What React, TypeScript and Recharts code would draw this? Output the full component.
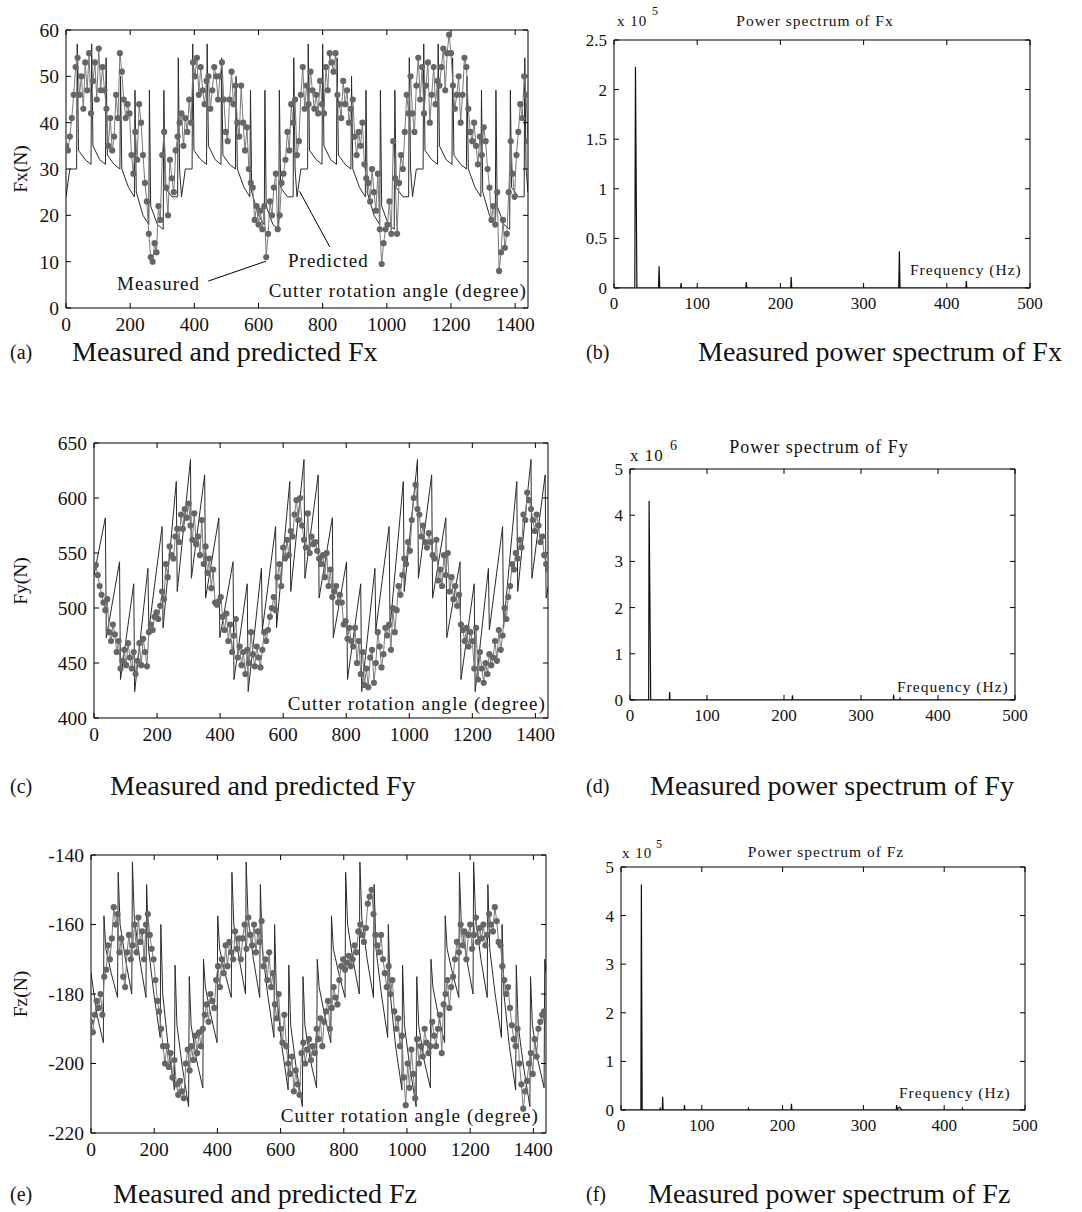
import React from 'react';
import { ComposedChart, Line, XAxis, YAxis, ReferenceLine } from 'recharts';

const SERIF = "'Liberation Serif', 'Times New Roman', serif";

// ---------- tick labels ----------
const ANGLE_TICKS = [0, 200, 400, 600, 800, 1000, 1200, 1400];
const FREQ_TICKS = [0, 100, 200, 300, 400, 500];
const FX_TICKS = [0, 10, 20, 30, 40, 50, 60];
const FY_TICKS = [400, 450, 500, 550, 600, 650];
const FZ_TICKS = [-220, -200, -180, -160, -140];
const PSX_TICKS = [0, 0.5, 1, 1.5, 2, 2.5];
const PS5_TICKS = [0, 1, 2, 3, 4, 5];

// measured samples are every 6 degrees of cutter rotation (0..1440)
const MEASURED_STEP = 6;

// ---------- Fx ----------
const fxMeasured = [
  35, 34, 37, 41, 46, 52, 54, 46, 50, 43,
  53, 47, 55, 42, 49, 53, 45, 56, 47, 52,
  47, 43, 35, 41, 34, 37, 46, 41, 55, 51,
  45, 41, 44, 42, 33, 29, 38, 32, 44, 40,
  33, 27, 23, 16, 11, 10, 14, 12, 22, 19,
  33, 38, 26, 20, 32, 28, 25, 34, 37, 40,
  42, 35, 41, 38, 45, 40, 53, 50, 54, 46,
  52, 47, 44, 49, 50, 43, 47, 52, 50, 45,
  50, 53, 45, 38, 36, 45, 51, 44, 48, 40,
  37, 48, 40, 34, 39, 30, 27, 26, 19, 22,
  18, 21, 17, 22, 11, 16, 23, 20, 26, 29,
  17, 20, 27, 29, 32, 38, 34, 44, 40, 45,
  33, 36, 46, 52, 43, 48, 44, 51, 47, 43,
  46, 42, 49, 44, 42, 52, 47, 55, 53, 51,
  55, 46, 44, 41, 49, 44, 47, 40, 43, 45,
  37, 33, 38, 35, 40, 31, 28, 27, 23, 30,
  25, 21, 29, 17, 9.5, 14, 17, 18, 23, 16,
  36, 28, 16, 27, 33, 30, 38, 46, 42, 50,
  42, 38, 48, 54, 45, 52, 42, 48, 53, 40,
  46, 52, 44, 49, 48, 52, 56, 47, 55, 59,
  55, 48, 43, 46, 50, 40, 46, 54, 52, 43,
  38, 36, 40, 35, 31, 37, 33, 39, 36, 30,
  26, 19, 22, 18, 25, 8, 12, 19, 13, 16,
  25, 36, 29, 24, 33, 38, 44, 41, 50, 46,
  36,
];

const fxPredicted = [
  [0, 24], [12, 30], [33, 30], [35, 57], [39, 34], [60, 32], [78, 31], [80, 57], [84, 35], [105, 32], [123, 31], [125, 54], [129, 33], [150, 31], [168, 30], [170, 50], [174, 30], [195, 26], [213, 24], [215, 47], [219, 25], [240, 20], [258, 18], [260, 47], [264, 22], [285, 18], [303, 17], [305, 47], [309, 26], [330, 24], [348, 24], [350, 54], [354, 30],
  [360, 24], [372, 30], [393, 30], [395, 57], [399, 34], [420, 32], [438, 31], [440, 57], [444, 35], [465, 32], [483, 31], [485, 54], [489, 33], [510, 31], [528, 30], [530, 50], [534, 30], [555, 26], [573, 24], [575, 47], [579, 25], [600, 20], [618, 18], [620, 47], [624, 22], [645, 18], [663, 17], [665, 47], [669, 26], [690, 24], [708, 24], [710, 54], [714, 30],
  [720, 24], [732, 30], [753, 30], [755, 57], [759, 34], [780, 32], [798, 31], [800, 57], [804, 35], [825, 32], [843, 31], [845, 54], [849, 33], [870, 31], [888, 30], [890, 50], [894, 30], [915, 26], [933, 24], [935, 47], [939, 25], [960, 20], [978, 18], [980, 47], [984, 22], [1005, 18], [1023, 17], [1025, 47], [1029, 26], [1050, 24], [1068, 24], [1070, 54], [1074, 30],
  [1080, 24], [1092, 30], [1113, 30], [1115, 57], [1119, 34], [1140, 32], [1158, 31], [1160, 57], [1164, 35], [1185, 32], [1203, 31], [1205, 54], [1209, 33], [1230, 31], [1248, 30], [1250, 50], [1254, 30], [1275, 26], [1293, 24], [1295, 47], [1299, 25], [1320, 20], [1338, 18], [1340, 47], [1344, 22], [1365, 18], [1383, 17], [1385, 47], [1389, 26], [1410, 24], [1428, 24], [1430, 54], [1434, 30], [1440, 25],
];

// ---------- Fy ----------
const fyMeasured = [
  537, 539, 530, 520, 512, 505, 498, 508, 478, 470,
  485, 476, 460, 470, 445, 452, 462, 448, 468, 455,
  445, 460, 440, 452, 468, 448, 472, 460, 447, 478,
  485, 480, 492, 496, 490, 502, 515, 508, 540, 528,
  556, 548, 545, 565, 572, 560, 585, 572, 590, 582,
  595, 575, 562, 586, 558, 565, 548, 580, 540, 556,
  532, 545, 518, 535, 505, 503, 506, 510, 492, 480,
  495, 470, 485, 460, 475, 490, 455, 465, 448, 460,
  440, 462, 450, 478, 458, 447, 465, 455, 446, 462,
  478, 470, 480, 492, 500, 510, 498, 528, 540, 520,
  555, 545, 562, 548, 570, 565, 585, 598, 580, 600,
  575, 562, 555, 586, 550, 565, 558, 560, 552, 545,
  540, 548, 528, 550, 520, 535, 510, 515, 520, 505,
  512, 505, 485, 488, 472, 482, 470, 465, 482, 450,
  470, 440, 460, 430, 445, 428, 455, 462, 432, 450,
  478, 465, 446, 458, 482, 475, 485, 462, 500, 478,
  498, 520, 512, 530, 545, 540, 560, 552, 580, 600,
  612, 590, 585, 565, 575, 560, 555, 568, 560, 548,
  545, 562, 525, 535, 520, 548, 530, 550, 515, 528,
  508, 520, 502, 512, 485, 480, 470, 482, 465, 478,
  470, 445, 482, 435, 460, 445, 432, 450, 440, 458,
  448, 455, 470, 452, 480, 462, 475, 500, 490, 510,
  520, 540, 535, 550, 545, 562, 555, 585, 580, 605,
  598, 590, 580, 570, 585, 575, 560, 565, 548, 540,
  535,
];

const fyPredicted = [
  [0, 530],
  [36, 582], [39, 473], [81, 542], [84, 435], [126, 522], [129, 424], [171, 536], [174, 480], [216, 574], [219, 482], [261, 615], [264, 515], [306, 635], [309, 527], [351, 621], [354, 509],
  [396, 582], [399, 473], [441, 542], [444, 435], [486, 522], [489, 424], [531, 536], [534, 480], [576, 574], [579, 482], [621, 615], [624, 515], [666, 635], [669, 527], [711, 621], [714, 509],
  [756, 582], [759, 473], [801, 542], [804, 435], [846, 522], [849, 424], [891, 536], [894, 480], [936, 574], [939, 482], [981, 615], [984, 515], [1026, 635], [1029, 527], [1071, 621], [1074, 509],
  [1116, 582], [1119, 473], [1161, 542], [1164, 435], [1206, 522], [1209, 424], [1251, 536], [1254, 480], [1296, 574], [1299, 482], [1341, 615], [1344, 515], [1386, 635], [1389, 527], [1431, 621], [1434, 509], [1440, 519],
];

// ---------- Fz ----------
const fzMeasured = [
  -188, -191, -186, -182, -184, -180, -186, -175, -173, -166,
  -170, -164, -155, -160, -157, -168, -164, -175, -178, -168,
  -163, -170, -166, -160, -168, -158, -165, -162, -170, -160,
  -157, -163, -167, -170, -176, -182, -185, -190, -195, -200,
  -195, -201, -197, -204, -199, -206, -209, -205, -208, -210,
  -200, -196, -202, -195, -199, -192, -197, -191, -195, -190,
  -186, -183, -188, -180, -182, -184, -176, -172, -178, -170,
  -174, -166, -172, -165, -168, -170, -162, -167, -164, -170,
  -164, -160, -167, -158, -163, -166, -160, -168, -162, -165,
  -159, -172, -170, -176, -168, -178, -174, -183, -187, -180,
  -190, -194, -186, -195, -200, -203, -198, -208, -202, -206,
  -209, -197, -194, -200, -196, -193, -199, -195, -197, -190,
  -193, -187, -195, -188, -185, -182, -190, -184, -178, -181,
  -183, -176, -172, -170, -173, -171, -169, -172, -170, -166,
  -168, -162, -160, -163, -165, -161, -154, -152, -150, -157,
  -163, -166, -168, -163, -170, -174, -178, -172, -180, -176,
  -185, -190, -187, -195, -192, -204, -212, -200, -207, -196,
  -203, -210, -193, -200, -195, -198, -190, -194, -197, -195,
  -188, -192, -195, -190, -186, -197, -183, -180, -176, -184,
  -178, -175, -170, -165, -168, -160, -166, -162, -170, -163,
  -160, -167, -163, -158, -165, -161, -164, -160, -166, -163,
  -157, -160, -162, -155, -159, -165, -166, -172, -176, -180,
  -178, -184, -189, -193, -195, -190, -200, -206, -213, -208,
  -205, -200, -197, -203, -193, -198, -190, -188, -186, -185,
  -187,
];

const fzPredicted = [
  [0, -174], [19, -186],
  [39, -194], [41, -157.5], [47, -167], [64, -174], [84, -181], [86, -145], [92, -160], [109, -170], [129, -180], [131, -142], [137, -158], [154, -170], [174, -181], [176, -148.5], [182, -167], [199, -180], [219, -192.5], [221, -160], [227, -180], [244, -195], [264, -207.6], [266, -171.7], [272, -189], [289, -201], [309, -212.4], [311, -175], [317, -189], [334, -199], [354, -207], [356, -170],
  [362, -178], [379, -186],
  [399, -194], [401, -157.5], [407, -167], [424, -174], [444, -181], [446, -145], [452, -160], [469, -170], [489, -180], [491, -142], [497, -158], [514, -170], [534, -181], [536, -148.5], [542, -167], [559, -180], [579, -192.5], [581, -160], [587, -180], [604, -195], [624, -207.6], [626, -171.7], [632, -189], [649, -201], [669, -212.4], [671, -175], [677, -189], [694, -199], [714, -207], [716, -170],
  [722, -178], [739, -186],
  [759, -194], [761, -157.5], [767, -167], [784, -174], [804, -181], [806, -145], [812, -160], [829, -170], [849, -180], [851, -142], [857, -158], [874, -170], [894, -181], [896, -148.5], [902, -167], [919, -180], [939, -192.5], [941, -160], [947, -180], [964, -195], [984, -207.6], [986, -171.7], [992, -189], [1009, -201], [1029, -212.4], [1031, -175], [1037, -189], [1054, -199], [1074, -207], [1076, -170],
  [1082, -178], [1099, -186],
  [1119, -194], [1121, -157.5], [1127, -167], [1144, -174], [1164, -181], [1166, -145], [1172, -160], [1189, -170], [1209, -180], [1211, -142], [1217, -158], [1234, -170], [1254, -181], [1256, -148.5], [1262, -167], [1279, -180], [1299, -192.5], [1301, -160], [1307, -180], [1324, -195], [1344, -207.6], [1346, -171.7], [1352, -189], [1369, -201], [1389, -212.4], [1391, -175], [1397, -189], [1414, -199], [1434, -207], [1436, -170], [1440, -174],
];

// ---------- power spectra (frequency Hz, power in units of the axis multiplier) ----------
const psFx = [
  [0, 0], [25, 0], [25.8, 2.23], [27.5, 0], [53.5, 0], [54.2, 0.22], [55, 0], [80, 0], [80.6, 0.05], [81.2, 0],
  [158.4, 0], [159, 0.06], [159.6, 0], [212.4, 0], [213, 0.11], [213.6, 0], [342.2, 0], [343, 0.37], [343.8, 0],
  [422.9, 0], [423.5, 0.07], [424.1, 0], [500, 0],
];
const psFy = [
  [0, 0], [24.2, 0], [24.8, 4.31], [26.9, 0], [51, 0], [51.5, 0.17], [52, 0], [210.5, 0], [211, 0.1], [211.5, 0],
  [341.9, 0], [342.4, 0.11], [342.9, 0], [350.3, 0], [350.8, 0.03], [351.3, 0], [500, 0],
];
const psFz = [
  [0, 0], [24.6, 0], [25.2, 4.64], [26.2, 0], [48.1, 0], [48.6, 0.05], [49.1, 0], [51.1, 0], [51.6, 0.27], [52.1, 0],
  [78.1, 0], [78.6, 0.1], [79.1, 0], [157.3, 0], [157.8, 0.03], [158.3, 0], [210.5, 0], [211, 0.13], [211.5, 0],
  [340.6, 0], [341.2, 0.1], [342, 0.02], [345, 0.06], [347.5, 0], [422.1, 0], [422.6, 0.03], [423.1, 0], [500, 0],
];

const pairs = (p: number[][]) => p.map(([x, y]) => ({ x, y }));
const sampled = (v: number[]) => v.map((y, i) => ({ x: i * MEASURED_STEP, y }));

type Rect = { x: number; y: number; w: number; h: number };

function Plot(props: {
  rect: Rect;
  xDomain: [number, number];
  xTicks: number[];
  yDomain: [number, number];
  yTicks: number[];
  fs: number;
  xMargin: number;
  yMargin: number;
  children?: React.ReactNode;
}) {
  const { rect, xDomain, xTicks, yDomain, yTicks, fs, xMargin, yMargin, children } = props;
  const YW = 80, XH = 40, TH = 1, RW = 1, MT = 16, MR = 34;
  const W = rect.w + YW + RW + MR;
  const H = rect.h + XH + TH + MT;
  const tick = { fill: '#111', fontSize: fs, fontFamily: SERIF };
  const ax = { stroke: '#000', strokeWidth: 1 };
  const empty = () => '';
  return (
    <div style={{ position: 'absolute', left: rect.x - YW, top: rect.y - TH - MT, width: W, height: H }}>
      <ComposedChart width={W} height={H} margin={{ top: MT, right: MR, bottom: 0, left: 0 }}>
        <XAxis type="number" dataKey="x" domain={xDomain} ticks={xTicks} interval={0} allowDataOverflow
          height={XH} tickSize={-5} tickMargin={xMargin} tick={tick} axisLine={ax} tickLine={ax} />
        <XAxis xAxisId="top" orientation="top" type="number" dataKey="x" domain={xDomain} ticks={xTicks} interval={0}
          allowDataOverflow height={TH} tickSize={-5} tickFormatter={empty} axisLine={ax} tickLine={ax} />
        <YAxis type="number" domain={yDomain} ticks={yTicks} interval={0} allowDataOverflow width={YW}
          tickSize={-5} tickMargin={yMargin} tick={tick} axisLine={ax} tickLine={ax} />
        <YAxis yAxisId="right" orientation="right" type="number" domain={yDomain} ticks={yTicks} interval={0}
          allowDataOverflow width={RW} tickSize={-5} tickFormatter={empty} axisLine={ax} tickLine={ax} />
        {children}
      </ComposedChart>
    </div>
  );
}

function Txt(props: { x: number; y: number; size: number; anchor?: 'start' | 'middle' | 'end'; ls?: number; rotate?: boolean; children: React.ReactNode }) {
  const { x, y, size, anchor = 'start', ls = 0, rotate = false, children } = props;
  const tx = anchor === 'start' ? '0' : anchor === 'end' ? '-100%' : '-50%';
  return (
    <div style={{
      position: 'absolute', left: x, top: y,
      transform: `translate(${tx}, -50%)${rotate ? ' rotate(-90deg)' : ''}`,
      fontFamily: SERIF, fontSize: size, letterSpacing: ls, whiteSpace: 'nowrap', lineHeight: 1, color: '#111',
    }}>{children}</div>
  );
}

const PRED_STROKE = '#2a2a2a';
const MEAS_STROKE = '#7a7a7a';
const MEAS_DOT = { r: 3.1, fill: '#666666', stroke: '#666666', strokeWidth: 0 };

function TimePanel(props: { rect: Rect; yDomain: [number, number]; yTicks: number[]; pred: number[][]; meas: number[]; children?: React.ReactNode }) {
  const { rect, yDomain, yTicks, pred, meas, children } = props;
  return (
    <Plot rect={rect} xDomain={[0, 1440]} xTicks={ANGLE_TICKS} yDomain={yDomain} yTicks={yTicks} fs={19.5} xMargin={14} yMargin={12}>
      <Line data={pairs(pred)} dataKey="y" type="linear" stroke={PRED_STROKE} strokeWidth={1} dot={false} activeDot={false} isAnimationActive={false} />
      <Line data={sampled(meas)} dataKey="y" type="linear" stroke={MEAS_STROKE} strokeWidth={1} dot={MEAS_DOT} activeDot={false} isAnimationActive={false} />
      {children}
    </Plot>
  );
}

function SpecPanel(props: { rect: Rect; yDomain: [number, number]; yTicks: number[]; data: number[][] }) {
  const { rect, yDomain, yTicks, data } = props;
  return (
    <Plot rect={rect} xDomain={[0, 500]} xTicks={FREQ_TICKS} yDomain={yDomain} yTicks={yTicks} fs={17} xMargin={14} yMargin={12}>
      <Line data={pairs(data)} dataKey="y" type="linear" stroke="#111" strokeWidth={1.2} dot={false} activeDot={false} isAnimationActive={false} />
    </Plot>
  );
}

export default function App() {
  const CAP = 28;
  const LET = 20;
  return (
    <div style={{ position: 'absolute', left: 0, top: 0, width: 1082, height: 1212, background: '#fff', overflow: 'hidden' }}>
      {/* (a) */}
      <TimePanel rect={{ x: 66, y: 30, w: 462, h: 278 }} yDomain={[0, 60]} yTicks={FX_TICKS} pred={fxPredicted} meas={fxMeasured}>
        <ReferenceLine segment={[{ x: 443, y: 5.8 }, { x: 623, y: 10.1 }]} stroke="#000" strokeWidth={1} ifOverflow="visible" />
        <ReferenceLine segment={[{ x: 728, y: 25.2 }, { x: 822, y: 13.2 }]} stroke="#000" strokeWidth={1} ifOverflow="visible" />
      </TimePanel>
      <Txt x={21} y={169} size={19.5} anchor="middle" rotate>Fx(N)</Txt>
      <Txt x={117} y={283} size={19} ls={1}>Measured</Txt>
      <Txt x={288} y={260} size={19} ls={1}>Predicted</Txt>
      <Txt x={527} y={290} size={19} ls={1.1} anchor="end">Cutter rotation angle (degree)</Txt>

      {/* (b) */}
      <SpecPanel rect={{ x: 614, y: 40, w: 416, h: 248 }} yDomain={[0, 2.5]} yTicks={PSX_TICKS} data={psFx} />
      <Txt x={617} y={21} size={15} ls={1}>x 10</Txt>
      <Txt x={652} y={11} size={12}>5</Txt>
      <Txt x={815} y={21} size={15.5} ls={1} anchor="middle">Power spectrum of Fx</Txt>
      <Txt x={910} y={270} size={15.5} ls={1}>Frequency (Hz)</Txt>

      {/* (c) */}
      <TimePanel rect={{ x: 94, y: 443, w: 454, h: 275 }} yDomain={[400, 650]} yTicks={FY_TICKS} pred={fyPredicted} meas={fyMeasured} />
      <Txt x={21} y={581} size={19.5} anchor="middle" rotate>Fy(N)</Txt>
      <Txt x={546} y={703} size={19} ls={1.1} anchor="end">Cutter rotation angle (degree)</Txt>

      {/* (d) */}
      <SpecPanel rect={{ x: 630, y: 469, w: 385, h: 231 }} yDomain={[0, 5]} yTicks={PS5_TICKS} data={psFy} />
      <Txt x={630} y={455} size={17} ls={1}>x 10</Txt>
      <Txt x={670} y={446} size={14}>6</Txt>
      <Txt x={819} y={447} size={18} ls={1} anchor="middle">Power spectrum of Fy</Txt>
      <Txt x={897} y={687} size={15.5} ls={1}>Frequency (Hz)</Txt>

      {/* (e) */}
      <TimePanel rect={{ x: 91, y: 855, w: 455, h: 278 }} yDomain={[-220, -140]} yTicks={FZ_TICKS} pred={fzPredicted} meas={fzMeasured} />
      <Txt x={21} y={994} size={19.5} anchor="middle" rotate>Fz(N)</Txt>
      <Txt x={539} y={1115} size={19} ls={1.1} anchor="end">Cutter rotation angle (degree)</Txt>

      {/* (f) */}
      <SpecPanel rect={{ x: 621, y: 867, w: 404, h: 243 }} yDomain={[0, 5]} yTicks={PS5_TICKS} data={psFz} />
      <Txt x={622} y={853} size={15} ls={1}>x 10</Txt>
      <Txt x={656} y={844} size={12}>5</Txt>
      <Txt x={826} y={852} size={15.5} ls={1} anchor="middle">Power spectrum of Fz</Txt>
      <Txt x={899} y={1093} size={15.5} ls={1}>Frequency (Hz)</Txt>

      {/* captions */}
      <Txt x={10} y={352} size={LET}>(a)</Txt>
      <Txt x={72} y={352} size={CAP}>Measured and predicted Fx</Txt>
      <Txt x={586} y={352} size={LET}>(b)</Txt>
      <Txt x={698} y={352} size={CAP}>Measured power spectrum of Fx</Txt>
      <Txt x={10} y={786} size={LET}>(c)</Txt>
      <Txt x={110} y={786} size={CAP}>Measured and predicted Fy</Txt>
      <Txt x={586} y={786} size={LET}>(d)</Txt>
      <Txt x={650} y={786} size={CAP}>Measured power spectrum of Fy</Txt>
      <Txt x={10} y={1194} size={LET}>(e)</Txt>
      <Txt x={113} y={1194} size={CAP}>Measured and predicted Fz</Txt>
      <Txt x={586} y={1194} size={LET}>(f)</Txt>
      <Txt x={648} y={1194} size={CAP}>Measured power spectrum of Fz</Txt>
    </div>
  );
}
